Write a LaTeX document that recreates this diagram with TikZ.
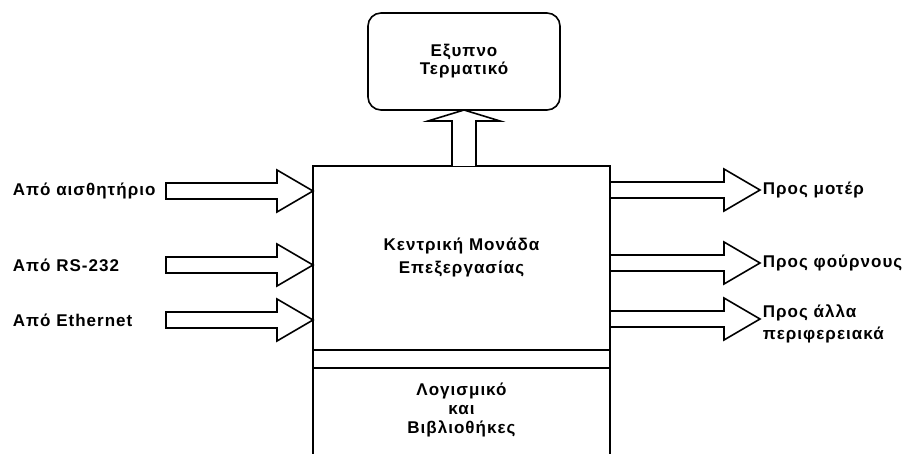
\documentclass[tikz,border=0pt]{standalone}
\usepackage{fontspec}
\setmainfont{Liberation Sans}[LetterSpace=6]
\usetikzlibrary{calc}
\tikzset{
  box/.style={draw,line width=1.6pt,outer sep=0pt,align=center,font=\bfseries\fontsize{17}{23}\selectfont},
  txt/.style={align=center,inner sep=0pt,font=\bfseries\fontsize{17}{19}\selectfont},
  blockarr/.style={draw,line width=1.6pt,fill=white,line join=miter},
}
% hollow block arrows, tail -> tip
\newcommand{\harrow}[2]{\draw[blockarr] ($(#1)+(0,-8)$) -- ($(#2)+(-36,-8)$) -- ($(#2)+(-36,-21)$) -- (#2) -- ($(#2)+(-36,21)$) -- ($(#2)+(-36,8)$) -- ($(#1)+(0,8)$) -- cycle;}
\newcommand{\varrow}[2]{\draw[blockarr] ($(#1)+(-12,0)$) -- ($(#2)+(-12,11)$) -- ($(#2)+(-36,11)$) -- (#2) -- ($(#2)+(36,11)$) -- ($(#2)+(12,11)$) -- ($(#1)+(12,0)$);}
\begin{document}
\begin{tikzpicture}[x=1pt,y=-1pt,line width=1.6pt]
\useasboundingbox (0,0) rectangle (919,454);

\node[box,minimum width=297pt,minimum height=184pt] (cpu) at (461.5,258) {Κεντρική Μονάδα\\Επεξεργασίας};
\node[box,rounded corners=13pt,minimum width=192pt,minimum height=97pt,font=\bfseries\fontsize{17}{18}\selectfont] (term) at (464,61.5) {Εξυπνο\\Τερματικό};
\node[txt] (lib) at (461.5,410) {Λογισμικό\\και\\Βιβλιοθήκες};
\draw (cpu.south west) -- ++(0,110); \draw (cpu.south east) -- ++(0,110);
\draw ($(cpu.south west)+(0,18)$) -- ($(cpu.south east)+(0,18)$);

% inputs
\node[txt,anchor=west] (src1) at (12,191) {Από αισθητήριο};
\node[txt,anchor=west] (src2) at (12,265) {Από RS-232};
\node[txt,anchor=west] (src3) at (12,320) {Από Ethernet};
\coordinate (t1) at (166,191); \coordinate (t2) at (166,265); \coordinate (t3) at (166,320);
\harrow{t1}{cpu.west |- src1}
\harrow{t2}{cpu.west |- src2}
\harrow{t3}{cpu.west |- src3}

% outputs
\coordinate (o1) at (760,190); \coordinate (o2) at (760,263); \coordinate (o3) at (760,319);
\node[txt,anchor=west] (dst1) at (762,190) {Προς μοτέρ};
\node[txt,anchor=west] (dst2) at (762,263) {Προς φούρνους};
\node[txt,anchor=west,align=left,font=\bfseries\fontsize{17}{22}\selectfont] (dst3) at (762,324) {Προς άλλα\\περιφερειακά};
\harrow{cpu.east |- o1}{o1}
\harrow{cpu.east |- o2}{o2}
\harrow{cpu.east |- o3}{o3}

\varrow{term.south |- cpu.north}{term.south}
\end{tikzpicture}
\end{document}
